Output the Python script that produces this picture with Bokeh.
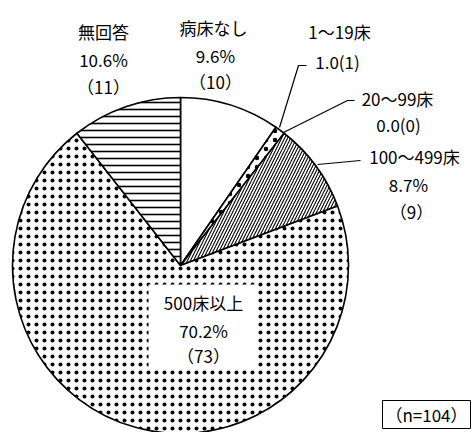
import math
from bokeh.plotting import figure
from bokeh.models import Range1d
from bokeh.core.properties import value
from bokeh.embed import file_html
from bokeh.resources import INLINE

# ---- data ----
categories = ["病床なし", "1～19床", "20～99床", "100～499床", "500床以上", "無回答"]
counts = [10, 1, 0, 9, 73, 11]
percents = [9.6, 1.0, 0.0, 8.7, 70.2, 10.6]
total_n = 104
hatches = [" ", ".", " ", "/", ".", "-"]

W, H = 473, 432
FONT = value("Noto Sans CJK JP")

p = figure(width=W, height=H, output_backend="svg", toolbar_location=None,
           x_range=Range1d(0, W), y_range=Range1d(0, H), min_border=0)
p.axis.visible = False
p.grid.visible = False
p.outline_line_color = None
p.background_fill_color = "white"

def Y(y):
    return H - y

cx, cy, r = 180, Y(265), 168

# wedges (clockwise from 12 o'clock)
starts, ends = [], []
a = math.pi / 2
for c in counts:
    sweep = 2 * math.pi * c / total_n
    starts.append(a)
    ends.append(a - sweep)
    a -= sweep

scales = [8, 9, 8, 6, 8, 7]
weights = [1, 1.0, 1, 1.1, 1.0, 1.6]
for i in range(len(categories)):
    if counts[i] == 0:
        continue
    p.wedge(x=cx, y=cy, radius=r, start_angle=ends[i], end_angle=starts[i],
            direction="anticlock", fill_color="white", line_color="black",
            line_width=1.6, hatch_pattern=hatches[i], hatch_color="black",
            hatch_scale=scales[i], hatch_weight=weights[i])

# white box behind the big-slice label
p.quad(left=148, right=255, top=Y(284), bottom=Y(368), fill_color="white", line_color=None)

# labels
def label(x, y, t, size="17px"):
    p.text(x=[x], y=[Y(y)], text=[t], text_font=FONT, text_font_size=size,
           text_align="center", text_baseline="middle", text_color="black")

def pct(v):
    return f"{v:.1f}%"

def cnt(n):
    return f"（{n}）"

label(103, 31, categories[5]); label(103, 59, pct(percents[5])); label(103, 86, cnt(counts[5]))
label(213, 27, categories[0]); label(215, 55, pct(percents[0])); label(215, 81, cnt(counts[0]))
label(339, 31, categories[1]); label(337, 61, f"{percents[1]:.1f}({counts[1]})")
label(397, 98, categories[2]); label(398, 124, f"{percents[2]:.1f}({counts[2]})")
label(414, 156, categories[3]); label(408, 184, pct(percents[3])); label(411, 211, cnt(counts[3]))
label(203, 302, categories[4]); label(203, 330, pct(percents[4])); label(203, 355, cnt(counts[4]))

# leader lines
for pts in ([(279, 127), (298, 65), (306, 65)],
            [(283, 132), (347, 100), (354, 100)],
            [(317, 164), (360, 160)]):
    p.line(x=[q[0] for q in pts], y=[Y(q[1]) for q in pts], line_color="black", line_width=1.2)

# n box
p.quad(left=382, right=470, top=Y(400), bottom=Y(428), fill_color="white",
       line_color="black", line_width=1)
label(426, 414, f"（n={total_n}）")

open("out.html", "w").write(file_html(p, INLINE))
